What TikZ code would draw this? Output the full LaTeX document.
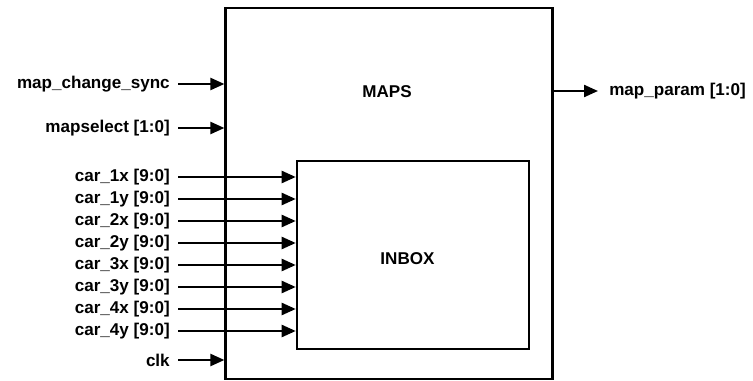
\documentclass[tikz,border=0pt]{standalone}
\usepackage{fontspec}
\setmainfont{Liberation Sans}
\usetikzlibrary{arrows.meta, positioning}

\begin{document}
\begin{tikzpicture}[
x=0.75pt, y=-0.75pt,
font=\fontsize{12.8}{15}\selectfont\bfseries,
block/.style={rectangle, draw=black, line width=1.9pt, inner sep=0pt},
sig/.style={anchor=east, inner sep=0pt},
line/.style={-{Triangle[length=10.5pt, width=9pt]}, line width=1.7pt}
]
\useasboundingbox (0,0) rectangle (753,381);

% blocks
\node[block, minimum width=245pt, minimum height=278pt] (maps) at (389,193.5) {};
\node (mapslbl) at (387,91.5) {MAPS};
\node[block, minimum width=174pt, minimum height=141pt] (inbox) at (413,255) {};
\node (inboxlbl) at (407.5,258.5) {INBOX};

% inputs to MAPS
\node[sig] (sync) at (170,84) {map\_change\_sync};
\node[sig] (sel) at (170,128) {mapselect [1:0]};
\node[sig] (clk) at (170,360) {clk};
\draw[line] (178,84) coordinate (s1) -- (s1 -| maps.west);
\draw[line] (178,128) coordinate (s2) -- (s2 -| maps.west);
\draw[line] (178,360) coordinate (s3) -- (s3 -| maps.west);

% inputs to INBOX
\foreach \name/\yy in {car\_1x/177, car\_1y/199, car\_2x/221, car\_2y/243,
                       car\_3x/265, car\_3y/287, car\_4x/309, car\_4y/331} {
  \node[sig] (c\yy) at (170,\yy) {\name{} [9:0]};
  \draw[line] (178,\yy) coordinate (p\yy) -- (p\yy -| inbox.west);
}

% output
\node[anchor=west, inner sep=0pt] (param) at (609,91) {map\_param [1:0]};
\draw[line] (maps.east |- param) -- (598,91) coordinate (q);
\end{tikzpicture}
\end{document}
